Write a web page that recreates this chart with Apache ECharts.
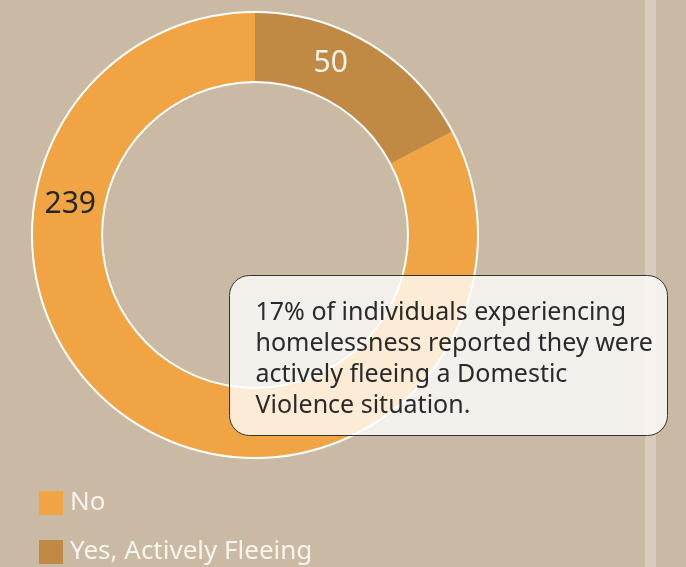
<!DOCTYPE html>
<html>
<head>
<meta charset="utf-8">
<script src="https://cdn.jsdelivr.net/npm/echarts@6/dist/echarts.min.js"></script>
<style>
  html, body { margin: 0; padding: 0; background: #cab9a3; }
  #chart { width: 686px; height: 567px; }
</style>
</head>
<body>
<div id="chart"></div>
<script>
const categories = ['Yes, Actively Fleeing', 'No']
const counts = [50, 239]
const legendOrder = ['No', 'Yes, Actively Fleeing']
const noteText = '17% of individuals experiencing\nhomelessness reported they were\nactively fleeing a Domestic\nViolence situation.'

const colors = ['#c08944', '#f1a443']
const labelColors = ['#f8f3ec', '#262626']
// nudge the labels to where the original had them
const labelShift = [[-23, -8], [-86, -194]]

const FONT = '"Noto Sans"'

const myChart = echarts.init(document.getElementById('chart'))

const ring = (r0, r1) => ({
  type: 'pie',
  silent: true,
  center: [255, 235],
  radius: [r0, r1],
  label: { show: false },
  labelLine: { show: false },
  itemStyle: { color: '#ffffff' },
  data: [{ value: 1, name: '' }]
})

const option = {
  backgroundColor: '#cab9a3',
  textStyle: { fontFamily: FONT },
  legend: {
    data: legendOrder,
    orient: 'vertical',
    left: 39,
    top: 490,
    padding: 0,
    itemWidth: 24,
    itemHeight: 24,
    itemGap: 23,
    icon: 'rect',
    selectedMode: false,
    textStyle: { color: '#f8f4ee', fontSize: 26, fontFamily: FONT, padding: [0, 0, 0, 2] }
  },
  graphic: [
    {
      type: 'rect',
      left: 645, top: 0,
      shape: { width: 11, height: 567 },
      style: { fill: '#d8ccbc' },
      z: 0
    },
    {
      type: 'group',
      left: 229, top: 275,
      children: [
        {
          type: 'rect',
          z: 100,
          shape: { width: 438, height: 160, r: 20 },
          style: { fill: 'rgba(255,255,255,0.78)', stroke: '#333', lineWidth: 1 }
        },
        {
          type: 'text',
          z: 101,
          left: 26, top: 22,
          style: {
            text: noteText,
            fill: '#2a2a2a',
            font: '25px "Noto Sans"',
            lineHeight: 31
          }
        }
      ]
    }
  ],
  series: [
    {
      type: 'pie',
      center: [255, 235],
      radius: [153, 223],
      startAngle: 90,
      clockwise: true,
      silent: true,
      label: {
        show: true,
        position: 'inside',
        fontSize: 30,
        fontFamily: FONT,
        formatter: '{c}'
      },
      labelLine: { show: false },
      labelLayout: p => ({ dx: labelShift[p.dataIndex][0], dy: labelShift[p.dataIndex][1] }),
      data: categories.map((name, i) => ({
        name,
        value: counts[i],
        itemStyle: { color: colors[i] },
        label: { color: labelColors[i] }
      }))
    },
    ring(222, 224),
    ring(152, 154)
  ]
}

myChart.setOption(option)
</script>
</body>
</html>
